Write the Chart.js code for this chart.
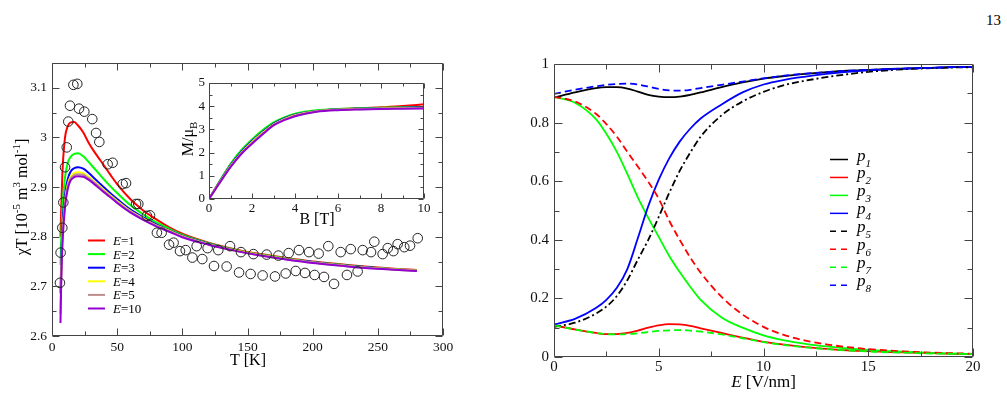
<!DOCTYPE html>
<html>
<head>
<meta charset="utf-8">
<script src="https://cdn.jsdelivr.net/npm/chart.js@4.4.0/dist/chart.umd.min.js"></script>
<style>
  html, body { margin: 0; padding: 0; background: #fff; }
  body { width: 1007px; height: 398px; position: relative; overflow: hidden; }
  canvas { position: absolute; }
  #chiChart { left: 0; top: 0; }
  #magChart { left: 160px; top: 70px; }
  #probChart { left: 480px; top: 0; }
  #page { position: absolute; left: 986px; top: 12px; font: 15px 'Liberation Serif', serif; }
</style>
</head>
<body>
<div id="page">13</div>
<canvas id="chiChart" width="460" height="398"></canvas>
<canvas id="magChart" width="280" height="165"></canvas>
<canvas id="probChart" width="527" height="398"></canvas>
<script>
const SERIF = "'Liberation Serif', 'DejaVu Serif', serif";

// --- chi*T : mesures (cercles)
const tMeas = [6.1, 6.6, 7.9, 8.7, 10.0, 11.3, 12.5, 13.8, 16.4, 19.4, 20.7, 24.8, 30.9, 33.8, 36.3,
  42.7, 46.5, 54.2, 56.8, 64.5, 66.2, 72.8, 75.2, 80.5, 84.1, 89.8, 93.3, 98.2, 102.6, 107.7,
  111.0, 115.3, 119.4, 124.3, 127.6, 134.0, 136.6, 143.5, 145.0, 152.4, 154.5, 161.6, 164.7,
  171.1, 173.7, 179.3, 181.6, 187.0, 189.5, 194.1, 197.2, 201.5, 204.6, 208.7, 212.0, 216.4,
  221.5, 226.3, 229.2, 234.5, 238.4, 244.8, 247.3, 253.7, 257.6, 261.9, 265.2, 270.3, 274.7, 280.6];
const chiMeas = [2.707, 2.768, 2.818, 2.869, 2.940, 2.980, 3.032, 3.064, 3.106, 3.108, 3.058, 3.052, 3.037, 3.009, 2.991,
  2.946, 2.949, 2.906, 2.908, 2.866, 2.866, 2.842, 2.843, 2.808, 2.808, 2.784, 2.788, 2.771, 2.773, 2.758,
  2.781, 2.755, 2.777, 2.741, 2.773, 2.740, 2.781, 2.728, 2.769, 2.725, 2.765, 2.722, 2.764,
  2.720, 2.762, 2.726, 2.767, 2.731, 2.773, 2.727, 2.769, 2.723, 2.766, 2.719, 2.781, 2.705,
  2.769, 2.723, 2.775, 2.730, 2.773, 2.769, 2.790, 2.765, 2.777, 2.771, 2.785, 2.779, 2.782, 2.797];

// --- chi*T : calculs pour E = 1,2,3,4,5,10
const tFit = [6.5, 7, 8, 10, 12, 14, 17, 20, 24, 28, 32, 36, 40, 45, 50, 60, 70, 80, 90, 100, 120, 140, 160, 180, 200, 220, 240, 260, 280];
const chiE1 = [2.800, 2.850, 2.930, 3.000, 3.022, 3.030, 3.031, 3.024, 3.010, 2.990, 2.973, 2.958, 2.943, 2.924, 2.906, 2.876, 2.853, 2.835, 2.819, 2.806, 2.788, 2.775, 2.765, 2.757, 2.750, 2.745, 2.740, 2.736, 2.733];
const chiE2 = [2.743, 2.790, 2.860, 2.920, 2.948, 2.960, 2.967, 2.968, 2.962, 2.951, 2.939, 2.927, 2.915, 2.901, 2.888, 2.864, 2.845, 2.829, 2.816, 2.804, 2.787, 2.774, 2.764, 2.756, 2.749, 2.744, 2.739, 2.735, 2.732];
const chiE3 = [2.686, 2.740, 2.820, 2.885, 2.915, 2.930, 2.938, 2.940, 2.937, 2.929, 2.919, 2.909, 2.899, 2.887, 2.876, 2.855, 2.839, 2.825, 2.813, 2.802, 2.786, 2.773, 2.763, 2.755, 2.749, 2.743, 2.739, 2.735, 2.732];
const chiE4 = [2.659, 2.720, 2.800, 2.872, 2.905, 2.920, 2.928, 2.930, 2.928, 2.921, 2.912, 2.903, 2.894, 2.883, 2.872, 2.852, 2.837, 2.823, 2.812, 2.801, 2.785, 2.773, 2.763, 2.755, 2.748, 2.743, 2.738, 2.735, 2.732];
const chiE5 = [2.645, 2.710, 2.792, 2.866, 2.900, 2.916, 2.924, 2.926, 2.925, 2.918, 2.910, 2.901, 2.892, 2.881, 2.870, 2.851, 2.836, 2.822, 2.811, 2.800, 2.785, 2.772, 2.762, 2.754, 2.748, 2.742, 2.738, 2.734, 2.731];
const chiE10 = [2.626, 2.700, 2.785, 2.860, 2.895, 2.912, 2.920, 2.922, 2.921, 2.915, 2.907, 2.898, 2.889, 2.879, 2.868, 2.849, 2.834, 2.821, 2.810, 2.799, 2.784, 2.772, 2.762, 2.754, 2.747, 2.742, 2.737, 2.734, 2.731];

const eLabels = ['1', '2', '3', '4', '5', '10'];
const eColors = ['#ff0000', '#00ff00', '#0000ff', '#ffff00', '#bc8f8f', '#9400d3'];
const tTicks = [0, 50, 100, 150, 200, 250, 300];
const chiTicks = [2.6, 2.7, 2.8, 2.9, 3.0, 3.1];

// --- encart M(B)
const bField = [0, 0.5, 1, 1.5, 2, 2.5, 3, 3.5, 4, 5, 6, 7, 8, 9, 10];
const magE1 = [0, 0.76, 1.48, 2.07, 2.54, 2.94, 3.27, 3.49, 3.65, 3.80, 3.87, 3.91, 3.95, 4.01, 4.08];
const magE2 = [0, 0.78, 1.51, 2.10, 2.57, 2.97, 3.30, 3.52, 3.68, 3.83, 3.88, 3.91, 3.93, 3.95, 3.97];
const magE3 = [0, 0.74, 1.45, 2.03, 2.50, 2.90, 3.24, 3.47, 3.63, 3.79, 3.86, 3.89, 3.91, 3.93, 3.95];
const magE4 = [0, 0.72, 1.42, 1.99, 2.46, 2.86, 3.21, 3.44, 3.61, 3.78, 3.85, 3.88, 3.90, 3.92, 3.93];
const magE5 = [0, 0.71, 1.40, 1.97, 2.43, 2.83, 3.19, 3.42, 3.59, 3.77, 3.84, 3.87, 3.89, 3.91, 3.92];
const magE10 = [0, 0.70, 1.37, 1.94, 2.38, 2.79, 3.17, 3.40, 3.57, 3.76, 3.83, 3.86, 3.88, 3.89, 3.90];
const bTicks = [0, 2, 4, 6, 8, 10];
const mTicks = [0, 1, 2, 3, 4, 5];

// --- probabilités p_i(E)
const eField = [0, 1, 2, 2.5, 3, 3.5, 4, 4.5, 5, 5.5, 6, 6.5, 7, 8, 9, 10, 11, 12, 13, 14, 15, 16, 17, 18, 19, 20];
const p1 = [0.885, 0.903, 0.918, 0.921, 0.921, 0.916, 0.906, 0.895, 0.889, 0.887, 0.889, 0.895, 0.903, 0.921, 0.937, 0.950, 0.959, 0.966, 0.972, 0.977, 0.980, 0.983, 0.985, 0.987, 0.989, 0.990];
const p2 = [0.108, 0.094, 0.082, 0.078, 0.078, 0.082, 0.090, 0.100, 0.108, 0.112, 0.111, 0.106, 0.098, 0.082, 0.066, 0.052, 0.042, 0.034, 0.028, 0.023, 0.020, 0.017, 0.015, 0.013, 0.011, 0.010];
const p3 = [0.888, 0.868, 0.812, 0.762, 0.700, 0.625, 0.545, 0.475, 0.410, 0.345, 0.290, 0.240, 0.195, 0.135, 0.100, 0.074, 0.057, 0.045, 0.036, 0.029, 0.024, 0.020, 0.017, 0.014, 0.012, 0.010];
const p4 = [0.111, 0.130, 0.167, 0.195, 0.236, 0.300, 0.405, 0.515, 0.605, 0.678, 0.735, 0.779, 0.814, 0.862, 0.903, 0.930, 0.946, 0.957, 0.966, 0.973, 0.978, 0.982, 0.985, 0.987, 0.989, 0.990];
const p5 = [0.103, 0.117, 0.148, 0.172, 0.208, 0.262, 0.332, 0.400, 0.478, 0.560, 0.635, 0.697, 0.752, 0.825, 0.872, 0.905, 0.928, 0.943, 0.955, 0.965, 0.973, 0.979, 0.983, 0.986, 0.988, 0.989];
const p6 = [0.888, 0.872, 0.830, 0.795, 0.752, 0.700, 0.650, 0.598, 0.540, 0.465, 0.400, 0.340, 0.288, 0.205, 0.145, 0.103, 0.075, 0.056, 0.043, 0.034, 0.027, 0.022, 0.018, 0.015, 0.013, 0.011];
const p7 = [0.108, 0.094, 0.082, 0.078, 0.077, 0.078, 0.081, 0.085, 0.089, 0.091, 0.092, 0.090, 0.087, 0.077, 0.064, 0.051, 0.041, 0.033, 0.027, 0.022, 0.019, 0.016, 0.014, 0.012, 0.011, 0.010];
const p8 = [0.898, 0.912, 0.924, 0.929, 0.932, 0.933, 0.930, 0.923, 0.915, 0.910, 0.909, 0.912, 0.918, 0.929, 0.940, 0.951, 0.960, 0.967, 0.972, 0.977, 0.980, 0.983, 0.985, 0.987, 0.989, 0.990];
const eTicks = [0, 5, 10, 15, 20];
const pTicks = [0, 0.2, 0.4, 0.6, 0.8, 1];

const pts = (xs, ys) => xs.map((x, i) => ({ x: x, y: ys[i] }));

// texte avec indices / exposants
function drawRuns(ctx, runs, x, y, align, rotate) {
    ctx.save();
    ctx.translate(x, y);
    if (rotate) ctx.rotate(-Math.PI / 2);
    ctx.fillStyle = '#000';
    ctx.textBaseline = 'alphabetic';
    ctx.textAlign = 'left';
    let w = 0;
    runs.forEach(r => { ctx.font = r.font; w += ctx.measureText(r.text).width; });
    let cx = align === 'center' ? -w / 2 : 0;
    runs.forEach(r => {
        ctx.font = r.font;
        ctx.fillText(r.text, cx, r.dy || 0);
        cx += ctx.measureText(r.text).width;
    });
    ctx.restore();
}
const f = (size, style) => (style || '') + ' ' + size + 'px ' + SERIF;

// cadre + graduations vers l'intérieur
const frameTicks = {
    id: 'frameTicks',
    afterDraw(chart, args, opts) {
        const { ctx, chartArea: a } = chart;
        const xs = chart.scales.x, ys = chart.scales.y;
        const L = Math.round(a.left) + 0.5, R = Math.round(a.right) - 0.5;
        const T = Math.round(a.top) + 0.5, B = Math.round(a.bottom) - 0.5;
        const marks = scale => {
            const vals = scale.ticks.map(t => t.value);
            const step = vals[1] - vals[0];
            const out = vals.map(v => [v, opts.major]);
            for (let v = vals[0] + step / 2; v <= scale.max + 1e-9; v += step) out.push([v, opts.minor]);
            return out;
        };
        ctx.save();
        ctx.strokeStyle = '#444';
        ctx.lineWidth = 1;
        ctx.beginPath();
        ctx.rect(L, T, R - L, B - T);
        marks(xs).forEach(([v, len]) => {
            const px = Math.round(xs.getPixelForValue(v)) + 0.5;
            ctx.moveTo(px, B); ctx.lineTo(px, B - len);
            ctx.moveTo(px, T); ctx.lineTo(px, T + len);
        });
        marks(ys).forEach(([v, len]) => {
            const py = Math.round(ys.getPixelForValue(v)) + 0.5;
            ctx.moveTo(L, py); ctx.lineTo(L + len, py);
            ctx.moveTo(R, py); ctx.lineTo(R - len, py);
        });
        ctx.stroke();
        ctx.restore();
    }
};

function linAxis(min, max, tickVals, fontSize, pad, fitSize, horizontal) {
    return {
        type: 'linear', min: min, max: max,
        grid: { display: false, drawTicks: false },
        border: { display: false },
        afterBuildTicks: s => { s.ticks = tickVals.map(v => ({ value: v })); },
        afterFit: s => { if (horizontal) s.height = fitSize; else s.width = fitSize; },
        ticks: {
            autoSkip: false, maxRotation: 0, padding: pad, color: '#111',
            font: { family: SERIF, size: fontSize },
            callback: v => String(+v.toFixed(2))
        }
    };
}

const baseOptions = (pad, xAxis, yAxis, frame) => ({
    responsive: false, animation: false, devicePixelRatio: 1,
    layout: { padding: pad },
    scales: { x: xAxis, y: yAxis },
    plugins: { legend: { display: false }, tooltip: { enabled: false }, frameTicks: frame }
});

// ---------- graphique chi*T ----------
const chiSeries = [chiE1, chiE2, chiE3, chiE4, chiE5, chiE10];
const chiDatasets = chiSeries.map((s, i) => ({
    data: pts(tFit, s), showLine: true, pointRadius: 0, borderWidth: 2,
    borderColor: eColors[i], cubicInterpolationMode: 'monotone', order: 6 - i
}));
chiDatasets.push({
    data: pts(tMeas, chiMeas), showLine: false, pointRadius: 4.8, pointStyle: 'circle',
    borderColor: '#222', backgroundColor: 'rgba(0,0,0,0)', pointBorderWidth: 1, order: 0
});

new Chart(document.getElementById('chiChart'), {
    type: 'scatter',
    data: { datasets: chiDatasets },
    options: baseOptions({ top: 63, right: 17, left: 0, bottom: 0 },
        linAxis(0, 300, tTicks, 13.5, 3, 62, true),
        linAxis(2.6, 3.15, chiTicks, 13.5, 5, 52, false),
        { major: 7, minor: 4 }),
    plugins: [frameTicks, {
        id: 'chiText',
        afterDraw(chart) {
            const ctx = chart.ctx;
            drawRuns(ctx, [{ text: 'T [K]', font: f(16) }], 248, 365, 'center');
            drawRuns(ctx, [
                { text: 'χT [10', font: f(16) }, { text: '-5', font: f(11), dy: -7 },
                { text: ' m', font: f(16) }, { text: '3', font: f(11), dy: -7 },
                { text: ' mol', font: f(16) }, { text: '-1', font: f(11), dy: -7 },
                { text: ']', font: f(16) }
            ], 27, 197, 'center', true);
            // légende E=...
            eLabels.forEach((lab, i) => {
                const y = 240.5 + i * 13.6;
                ctx.save();
                ctx.strokeStyle = eColors[i];
                ctx.lineWidth = 2;
                ctx.beginPath(); ctx.moveTo(88, y); ctx.lineTo(105, y); ctx.stroke();
                ctx.restore();
                drawRuns(ctx, [{ text: 'E', font: f(13, 'italic') }, { text: '=' + lab, font: f(13) }], 113, y + 4.5, 'left');
            });
        }
    }]
});

// ---------- encart M(B) ----------
const magSeries = [magE1, magE2, magE3, magE4, magE5, magE10];
new Chart(document.getElementById('magChart'), {
    type: 'scatter',
    data: {
        datasets: magSeries.map((s, i) => ({
            data: pts(bField, s), showLine: true, pointRadius: 0, borderWidth: 2,
            borderColor: eColors[i], cubicInterpolationMode: 'monotone', order: 6 - i
        }))
    },
    options: baseOptions({ top: 13, right: 16, left: 0, bottom: 0 },
        linAxis(0, 10, bTicks, 13, 2, 36, true),
        linAxis(0, 5, mTicks, 13, 4, 49, false),
        { major: 5, minor: 3 }),
    plugins: [frameTicks, {
        id: 'magText',
        afterDraw(chart) {
            const ctx = chart.ctx;
            drawRuns(ctx, [{ text: 'B [T]', font: f(16) }], 157, 154, 'center');
            drawRuns(ctx, [{ text: 'M/μ', font: f(16) }, { text: 'B', font: f(11), dy: 4 }], 33, 69, 'center', true);
        }
    }]
});

// ---------- probabilités ----------
const pSeries = [p1, p2, p3, p4, p5, p6, p7, p8];
const pColors = ['#000000', '#ff0000', '#00ff00', '#0000ff', '#000000', '#ff0000', '#00ff00', '#0000ff'];
const pDash = [[], [], [], [], [7, 3, 2, 3], [7, 4], [7, 4], [7, 4]];
new Chart(document.getElementById('probChart'), {
    type: 'scatter',
    data: {
        datasets: pSeries.map((s, i) => ({
            data: pts(eField, s), showLine: true, pointRadius: 0, borderWidth: 1.8,
            borderColor: pColors[i], borderDash: pDash[i], cubicInterpolationMode: 'monotone', order: 8 - i
        }))
    },
    options: baseOptions({ top: 64, right: 34, left: 0, bottom: 0 },
        linAxis(0, 20, eTicks, 15, 1, 41, true),
        linAxis(0, 1, pTicks, 15, 5, 74, false),
        { major: 8, minor: 5 }),
    plugins: [frameTicks, {
        id: 'probText',
        afterDraw(chart) {
            const ctx = chart.ctx;
            drawRuns(ctx, [{ text: 'E', font: f(17, 'italic') }, { text: ' [V/nm]', font: f(17) }], 283.5, 387, 'center');
            pSeries.forEach((s, i) => {
                const y = 159.5 + i * 17.95;
                ctx.save();
                ctx.strokeStyle = pColors[i];
                ctx.lineWidth = 1.5;
                ctx.setLineDash(i < 4 ? [] : [6, 5]);
                ctx.beginPath(); ctx.moveTo(350, y); ctx.lineTo(368, y); ctx.stroke();
                ctx.restore();
                drawRuns(ctx, [{ text: 'p', font: f(17, 'italic') }, { text: String(i + 1), font: f(11, 'italic'), dy: 6 }], 377, y + 1, 'left');
            });
        }
    }]
});
</script>
</body>
</html>
